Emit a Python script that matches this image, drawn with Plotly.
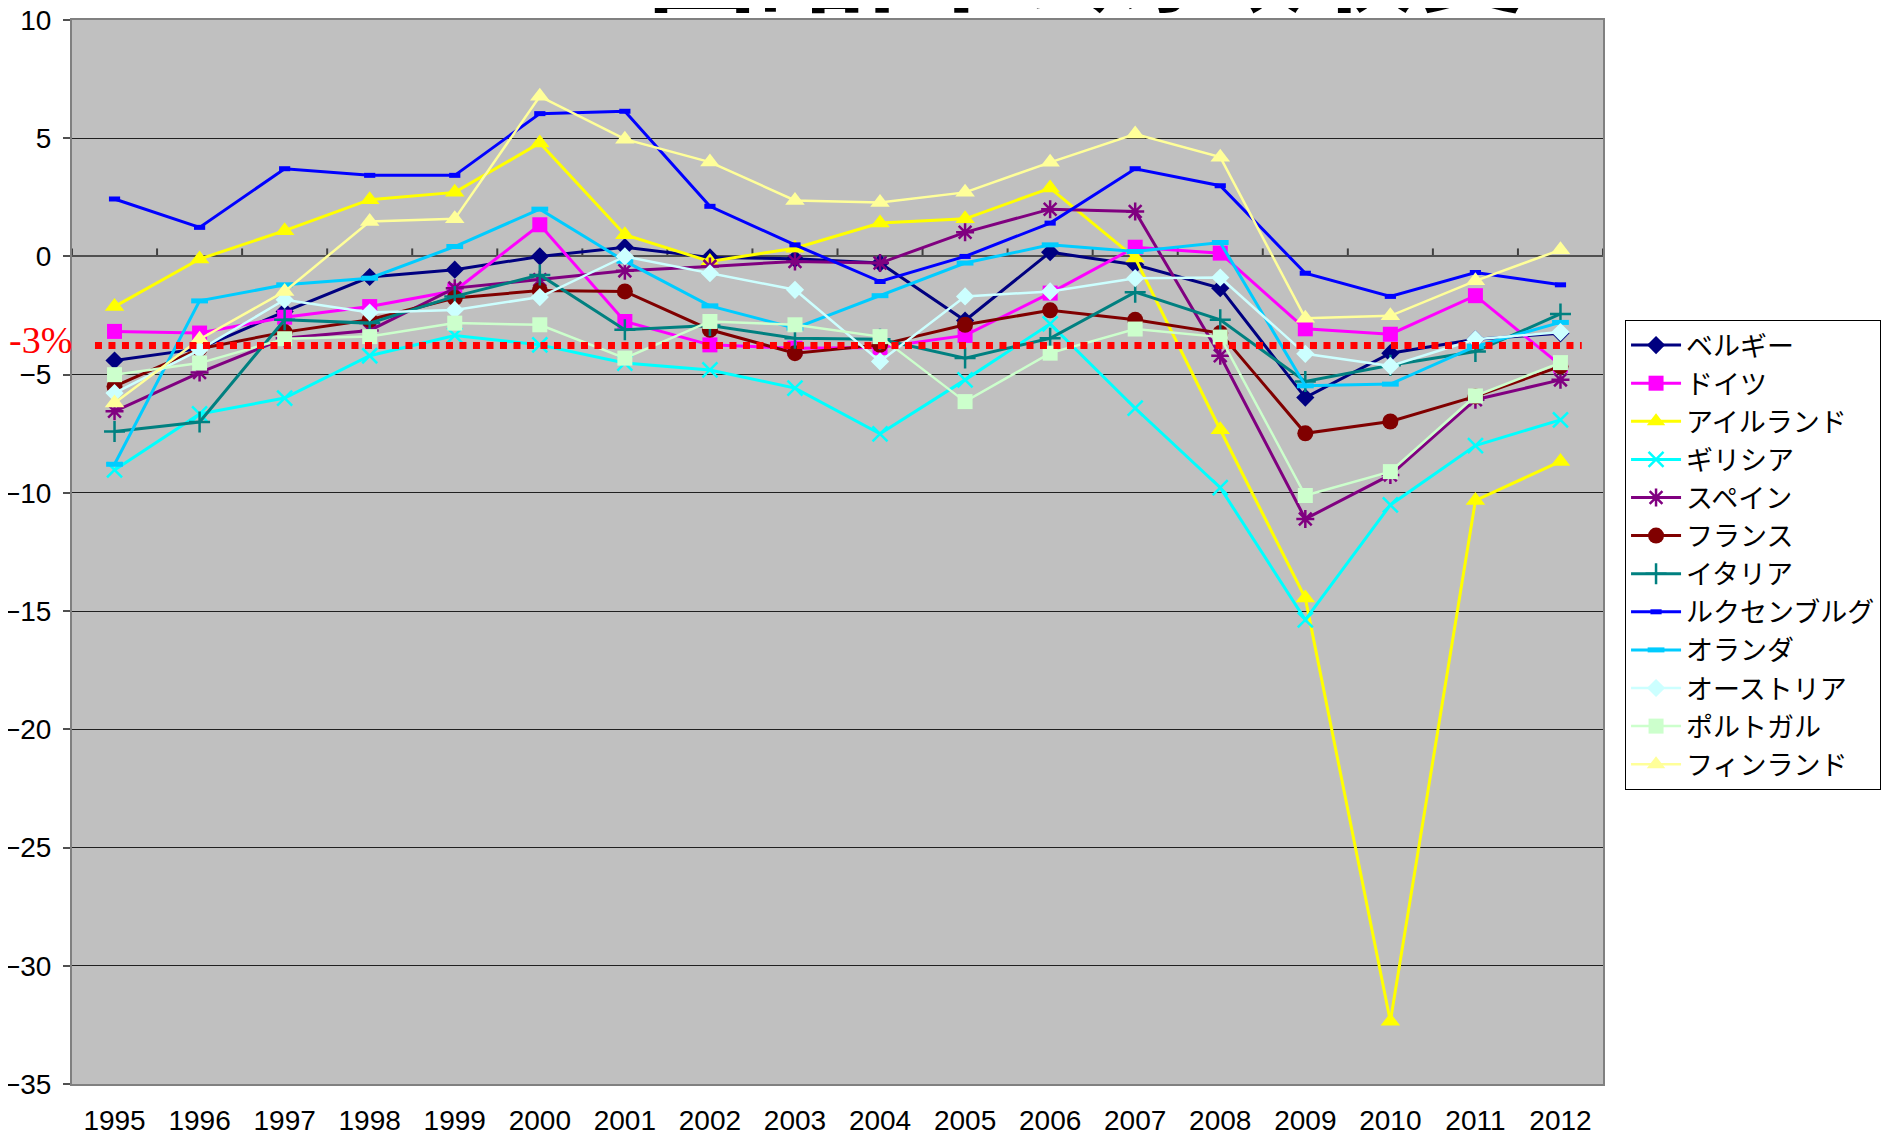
import plotly.graph_objects as go

years = ["1995", "1996", "1997", "1998", "1999", "2000", "2001", "2002", "2003",
         "2004", "2005", "2006", "2007", "2008", "2009", "2010", "2011", "2012"]

belgium = [-4.4, -3.9, -2.33, -0.87, -0.56, 0.0, 0.39, -0.04, -0.1, -0.28, -2.71, 0.18, -0.35, -1.34, -5.97, -4.09, -3.5, -3.25]
germany = [-3.17, -3.24, -2.57, -2.12, -1.45, 1.34, -2.75, -3.74, -3.88, -3.85, -3.34, -1.55, 0.39, 0.14, -3.06, -3.29, -1.66, -4.6]
ireland = [-2.12, -0.11, 1.09, 2.40, 2.71, 4.80, 0.92, -0.21, 0.35, 1.41, 1.59, 2.89, -0.07, -7.33, -14.45, -32.35, -10.32, -8.67]
greece = [-9.03, -6.66, -5.99, -4.2, -3.34, -3.74, -4.51, -4.80, -5.57, -7.5, -5.22, -2.85, -6.42, -9.78, -15.37, -10.51, -8.0, -6.91]
spain = [-6.55, -4.91, -3.46, -3.13, -1.34, -0.99, -0.61, -0.42, -0.21, -0.28, 1.02, 2.0, 1.9, -4.2, -11.1, -9.24, -6.06, -5.22]
france = [-5.5, -3.9, -3.2, -2.68, -1.76, -1.44, -1.48, -3.1, -4.09, -3.74, -2.89, -2.28, -2.68, -3.24, -7.48, -6.98, -5.92, -4.65]
italy = [-7.4, -7.0, -2.68, -2.82, -1.69, -0.78, -3.1, -2.92, -3.46, -3.5, -4.3, -3.46, -1.51, -2.68, -5.29, -4.6, -4.02, -2.43]
luxembourg = [2.43, 1.23, 3.71, 3.43, 3.43, 6.04, 6.14, 2.12, 0.49, -1.06, 0.0, 1.41, 3.71, 2.99, -0.71, -1.69, -0.68, -1.2]
netherlands = [-8.79, -1.88, -1.2, -0.92, 0.42, 2.0, -0.2, -2.09, -3.03, -1.66, -0.28, 0.49, 0.21, 0.59, -5.47, -5.4, -3.8, -2.79]
austria = [-5.78, -3.95, -1.83, -2.37, -2.26, -1.72, 0.0, -0.71, -1.41, -4.44, -1.69, -1.48, -0.92, -0.89, -4.12, -4.63, -3.5, -3.2]
portugal = [-5.0, -4.51, -3.48, -3.39, -2.82, -2.89, -4.3, -2.75, -2.89, -3.39, -6.14, -4.09, -3.07, -3.41, -10.11, -9.1, -5.9, -4.49]
finland = [-6.2, -3.5, -1.48, 1.48, 1.59, 6.77, 4.96, 3.99, 2.37, 2.28, 2.71, 3.98, 5.18, 4.2, -2.61, -2.51, -1.03, 0.28]

names = ["ベルギー", "ドイツ", "アイルランド", "ギリシア", "スペイン", "フランス",
         "イタリア", "ルクセンブルグ", "オランダ", "オーストリア", "ポルトガル", "フィンランド"]

limit_label = "-3%"
limit_line_y = -3.77
title_text = "圏諸国の財政収支"

series = [belgium, germany, ireland, greece, spain, france, italy,
          luxembourg, netherlands, austria, portugal, finland]

styles = [
    dict(color="#000080", symbol="diamond", size=14, lw=3),
    dict(color="#FF00FF", symbol="square", size=15, lw=3),
    dict(color="#FFFF00", symbol="triangle-up", size=17, lw=3),
    dict(color="#00FFFF", symbol="x-thin-open", size=15, lw=3, mlw=2.5),
    dict(color="#800080", symbol="asterisk-open", size=15, lw=3, mlw=2.5),
    dict(color="#800000", symbol="circle", size=16, lw=3),
    dict(color="#008080", symbol="cross-thin-open", size=15, lw=3, mlw=2.5),
    dict(color="#0000FF", symbol="line-ew-open", size=8, lw=3, mlw=5),
    dict(color="#00CCFF", symbol="line-ew-open", size=12, lw=3, mlw=5),
    dict(color="#CCFFFF", symbol="diamond", size=14, lw=2.5),
    dict(color="#CCFFCC", symbol="square", size=15, lw=2.5),
    dict(color="#FFFF99", symbol="triangle-up", size=17, lw=2.5),
]

fig = go.Figure()
for name, vals, st in zip(names, series, styles):
    marker = dict(color=st["color"], symbol=st["symbol"], size=st["size"])
    if "mlw" in st:
        marker["line"] = dict(color=st["color"], width=st["mlw"])
    else:
        marker["line"] = dict(width=0)
    fig.add_trace(go.Scatter(
        x=years, y=vals, name=name, mode="lines+markers",
        line=dict(color=st["color"], width=st["lw"]),
        marker=marker,
    ))

shapes = []
# red dotted reference line
shapes.append(dict(type="line", xref="x", yref="y", x0=-0.23, x1=17.25,
                   y0=limit_line_y, y1=limit_line_y,
                   line=dict(color="#FF0000", width=7, dash="7px,6.5px"), layer="above"))
# category boundary tick marks on the zero line
for i in range(len(years) + 1):
    shapes.append(dict(type="line", xref="x", yref="y", ysizemode="pixel", yanchor=0,
                       x0=i - 0.5, x1=i - 0.5, y0=0, y1=8,
                       line=dict(color="#404040", width=2), layer="below"))

annotations = [
    dict(text=limit_label, xref="paper", yref="y", x=0.0013, y=limit_line_y,
         xanchor="right", yanchor="middle", yshift=6, showarrow=False,
         font=dict(family="Liberation Serif, Times New Roman, serif", size=38, color="#FF0000")),
    dict(text="<b>" + title_text + "</b>", xref="paper", yref="paper", x=0.663, y=1.0,
         xanchor="center", yanchor="bottom", yshift=-17, showarrow=False,
         font=dict(family="Noto Sans CJK JP", size=110, color="#000000")),
]

tickfont = dict(family="Liberation Sans Narrow, Liberation Sans, Arial, sans-serif", size=28, color="#000000")

fig.update_layout(
    width=1889, height=1134,
    margin=dict(l=64, r=294, t=12, b=58, autoexpand=False),
    paper_bgcolor="#FFFFFF",
    plot_bgcolor="#C0C0C0",
    showlegend=True,
    legend=dict(x=1.0144, y=0.718, xanchor="left", yanchor="top",
                bgcolor="#FFFFFF", bordercolor="#000000", borderwidth=1,
                font=dict(family="Noto Sans CJK JP", size=27, color="#000000"),
                itemwidth=50, tracegroupgap=0),
    shapes=shapes,
    annotations=annotations,
    xaxis=dict(type="category", range=[-0.5, 17.5], showgrid=False, zeroline=False,
               automargin=False, ticklabeloverflow="allow",
               showline=True, mirror=True, linecolor="#808080", linewidth=2,
               ticks="", tickfont=tickfont, ticklabelstandoff=10),
    yaxis=dict(range=[-35, 10], dtick=5, tick0=0, showgrid=True, gridcolor="#202020", gridwidth=1.2,
               automargin=False, ticklabeloverflow="allow",
               zeroline=True, zerolinecolor="#505050", zerolinewidth=2,
               showline=True, mirror=True, linecolor="#808080", linewidth=2,
               ticks="outside", ticklen=7, tickcolor="#505050", tickwidth=2,
               tickfont=tickfont, ticklabelstandoff=6),
)

fig.write_html("out.html")
